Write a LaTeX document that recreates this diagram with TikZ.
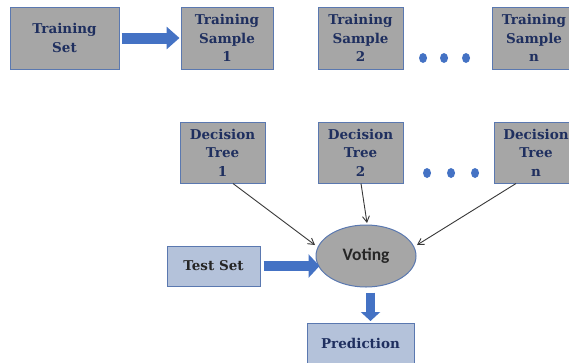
\documentclass[tikz,border=0pt]{standalone}
\usepackage{fontspec}
\setmainfont{DejaVu Serif}
\newfontfamily\votefont{Carlito}
\usetikzlibrary{arrows.meta,calc,shapes.geometric}
\definecolor{boxgray}{HTML}{A6A6A6}
\definecolor{boxedge}{HTML}{5A78B0}
\definecolor{lightblue}{HTML}{B4C2DA}
\definecolor{navy}{HTML}{1F2F5F}
\definecolor{arrowblue}{HTML}{4472C4}
\definecolor{thinline}{HTML}{383838}
\begin{document}
\begin{tikzpicture}[x=1pt,y=-1pt,
  graybox/.style={draw=boxedge, line width=1pt, fill=boxgray, rectangle, inner sep=0pt,
    align=center, font=\bfseries\fontsize{13.5}{18.5}\selectfont, text=navy},
  bluebox/.style={graybox, fill=lightblue},
  blockarrow/.style={draw=arrowblue, line width=#1},
  thinarrow/.style={draw=thinline, line width=0.9pt, -{Straight Barb[length=6pt,width=7pt]}},
  dot/.style={fill=arrowblue}]
\useasboundingbox (0,0) rectangle (569,362);
\clip (0,0) rectangle (569,362);
\fill[white] (0,0) rectangle (569,362);

% top row
\node[graybox, minimum width=109pt, minimum height=62pt] (ts) at (64.5,38) {Training\\Set};
\node[graybox, minimum width=92pt, minimum height=62pt] (s1) at (227,38) {Training\\Sample\\1};
\node[graybox, minimum width=85pt, minimum height=62pt] (s2) at (360.5,38) {Training\\Sample\\2};
\node[graybox, minimum width=84pt, minimum height=62pt] (sn) at (534,38) {Training\\Sample\\n};

\draw[blockarrow=11pt, -{Triangle[length=13pt,width=22pt]}, shorten <=2pt, shorten >=1pt] (ts.east) -- (s1.west);

\fill[dot] (423,58) ellipse [x radius=4pt, y radius=5pt];
\fill[dot] (444,58) ellipse [x radius=4pt, y radius=5pt];
\fill[dot] (466,58) ellipse [x radius=4pt, y radius=5pt];

% decision trees
\node[graybox, minimum width=85pt, minimum height=61pt] (dt1) at (222.5,152.5) {Decision\\Tree\\1};
\node[graybox, minimum width=85pt, minimum height=61pt] (dt2) at (360.5,152.5) {Decision\\Tree\\2};
\node[graybox, minimum width=84pt, minimum height=61pt] (dtn) at (536,152.5) {Decision\\Tree\\n};

\fill[dot] (427,173) ellipse [x radius=4pt, y radius=5pt];
\fill[dot] (451,173) ellipse [x radius=4pt, y radius=5pt];
\fill[dot] (475,173) ellipse [x radius=4pt, y radius=5pt];

% voting
\node[ellipse, draw=boxedge, line width=1pt, fill=boxgray, minimum width=100pt, minimum height=62pt,
  inner sep=0pt, font=\votefont\bfseries\fontsize{17.5}{20}\selectfont, text={black!85}] (vote) at (366,256) {Voting};

\node[bluebox, minimum width=93pt, minimum height=40pt, text={black!85}] (test) at (213.5,266) {Test Set};
\node[bluebox, minimum width=107pt, minimum height=46pt, anchor=north] (pred) at (360.5,323) {};
\node[font=\bfseries\fontsize{13.5}{18.5}\selectfont, text=navy, inner sep=0pt] (predlabel) at (360.5,343) {Prediction};

\draw[thinarrow] ($(dt1.south)+(10.5,0)$) -- ($(vote.center)+(-51,-11)$);
\draw[thinarrow] ($(dt2.south)+(0.5,0)$) -- ($(vote.center)+(1,-33)$);
\draw[thinarrow] ($(dtn.south)+(-20,0)$) -- ($(vote.center)+(51,-11)$);

\draw[blockarrow=10pt, -{Triangle[length=11pt,width=23pt]}, shorten <=3pt, shorten >=-4pt] (test.east) -- (test.east -| vote.west);
\draw[blockarrow=9pt, -{Triangle[length=9pt,width=19pt]}, shorten <=5pt, shorten >=2pt] ([xshift=4.5pt]vote.south) -- ([xshift=4.5pt]vote.south |- pred.north);
\end{tikzpicture}
\end{document}
